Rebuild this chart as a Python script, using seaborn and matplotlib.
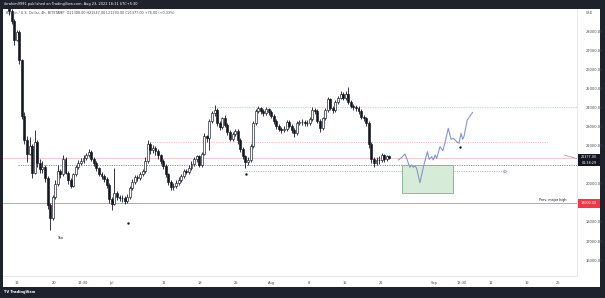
import numpy as np
import pandas as pd
import matplotlib
matplotlib.use("Agg")
import matplotlib.pyplot as plt
import seaborn as sns
from matplotlib.patches import Rectangle

# ---------------- data (12h candles, BTC/USD) ----------------
first_open = 29300
close = [29100, 28600, 27600, 28000, 26500, 23600, 22300, 21600, 22000, 20600,
         22200, 21100, 20800, 20900, 20300, 18900, 18200, 19300, 20000, 20700,
         20500, 21300, 20600, 20200, 19900, 20500, 20900, 21100, 21200, 21350,
         21500, 21700, 21300, 21100, 20850, 20550, 20400, 20250, 19950, 19200,
         18950, 19500, 19300, 19250, 19250, 19100, 19300, 19800, 20100, 20350,
         20300, 20500, 20700, 21200, 22100, 21800, 21900, 21750, 21500, 21200,
         20950, 20500, 20100, 19850, 19900, 20050, 20200, 20400, 20700, 20650,
         20850, 21050, 21300, 21450, 21000, 21600, 22500, 22400, 23300, 23750,
         23900, 23200, 23000, 23450, 23100, 22750, 22350, 22650, 22800, 22300,
         21850, 21450, 21150, 21250, 22000, 23200, 23850, 24000, 23850, 23750,
         23950, 23800, 23600, 23300, 23050, 22900, 22850, 22900, 23250, 23050,
         22850, 22700, 23200, 23250, 23250, 23200, 23200, 23400, 23900, 23850,
         23300, 22950, 23450, 23900, 24450, 24000, 23900, 24300, 24550, 24750,
         24500, 24750, 24300, 24100, 24050, 24000, 23850, 23550, 23450, 23200,
         22100, 21300, 21100, 21250, 21250, 21550, 21300, 21450, 21380]
high = [29400, 29200, 28700, 28100, 28100, 26600, 23800, 22500, 22450, 22100,
        22840, 22300, 21300, 21200, 21000, 20400, 19000, 19400, 20200, 21000,
        20800, 21530, 21400, 20700, 20300, 20600, 21000, 21250, 21350, 21500,
        21650, 21850, 21800, 21400, 21200, 20900, 20650, 20500, 20350, 20050,
        19300, 20840, 19650, 19400, 19400, 19350, 19450, 19900, 20250, 20450,
        20450, 20650, 20800, 21400, 22320, 22200, 22050, 22000, 21850, 21600,
        21300, 21050, 20600, 20200, 20050, 20200, 20350, 20550, 20800, 20800,
        21000, 21200, 21400, 21550, 21500, 21700, 22700, 22600, 23400, 23850,
        24160, 24000, 23300, 23550, 23630, 23200, 22850, 22750, 22900, 22900,
        22400, 21950, 21550, 21400, 22100, 23300, 23950, 24100, 24050, 23950,
        24070, 24000, 23900, 23700, 23400, 23150, 23000, 23050, 23350, 23350,
        23150, 22950, 23300, 23350, 23400, 23350, 23350, 23500, 24070, 24000,
        23950, 23400, 23550, 24000, 24600, 24550, 24100, 24400, 24650, 24900,
        24850, 24900, 25120, 24400, 24200, 24150, 24100, 23950, 23650, 23550,
        23300, 22200, 21400, 21400, 21450, 21650, 21600, 21550, 21550]
low = [28900, 28400, 27300, 27500, 26300, 23400, 22100, 21170, 21500, 20320,
       20500, 20900, 20600, 20600, 20100, 18700, 17580, 18100, 19200, 19900,
       20300, 20400, 20500, 20000, 19800, 19850, 20400, 20800, 21000, 21100,
       21250, 21400, 21200, 20950, 20700, 20400, 20250, 20100, 19800, 19000,
       18630, 18900, 19150, 19100, 19050, 18950, 19000, 19200, 19700, 20000,
       20150, 20200, 20400, 20600, 21100, 21600, 21650, 21550, 21300, 21050,
       20800, 20350, 19950, 19700, 19680, 19800, 19950, 20100, 20300, 20500,
       20550, 20750, 20950, 21150, 20900, 20900, 21500, 22200, 21800, 23200,
       23600, 23050, 22840, 22900, 23000, 22600, 22250, 22250, 22550, 22100,
       21700, 21300, 20840, 21000, 21150, 21900, 23100, 23750, 23700, 23600,
       23650, 23650, 23450, 23150, 22900, 22800, 22700, 22750, 22800, 22950,
       22700, 22490, 22600, 23100, 23100, 23050, 23050, 23100, 23300, 23700,
       23200, 22760, 22850, 23350, 23800, 23900, 23750, 23800, 24200, 24450,
       24400, 24400, 24200, 24000, 23900, 23850, 23700, 23400, 23300, 23050,
       21900, 21100, 20910, 21000, 21050, 21150, 21150, 21200, 21290]

# hand-drawn projection path (candle index, price)
fc_idx = [151.5, 152.4, 154.1, 155.4, 156.0, 156.7, 157.3, 158.0, 158.6, 159.9,
          161.2, 162.8, 163.5, 164.5, 165.1, 165.8, 166.4, 167.7, 168.8, 169.6,
          170.9, 172.0, 172.9, 174.2, 175.1, 175.9, 176.5, 177.0, 178.3, 180.4]
fc_price = [21263, 21353, 21579, 21089, 20879, 21000, 20879, 20947, 20826, 20068,
            20879, 21700, 21300, 21437, 21263, 21526, 21353, 21963, 21753, 22142,
            22932, 22353, 22405, 22226, 22142, 22668, 22353, 22489, 23368, 23774]

dot_idx = [46.3, 92.2, 175.4]
dot_price = [17947, 20526, 21947]

prev_major_high = 19000
last_price = 21377
level_dark = 21000
level_blue = 20680
level_pink_low = 22200
level_pink_high = 24050
zone_idx = [152.9, 172.8]
zone_price = [19530, 21000]
trend_idx = [216.0, 221.4]
trend_price = [21526, 21316]

price_ticks = [16000, 17000, 18000, 20000, 22000, 23000, 24000, 25000, 26000, 27000, 28000]
time_labels = ["13", "20", "13:30", "Jul", "11", "18", "25", "Aug", "8", "15", "22",
               "Sep", "13:30", "12", "19", "26"]
time_ticks = [3.1, 17.5, 28.8, 39.7, 60.3, 74.3, 88.3, 102.3, 116.7, 130.7, 144.7,
              165.4, 176.3, 187.5, 201.6, 213.6]

# ---------------- figure ----------------
sns.set_theme(style="white")
plt.rcParams["font.family"] = ["DejaVu Sans"]

W, H = 605, 298
fig = plt.figure(figsize=(W / 100, H / 100), dpi=100, facecolor="#1e222d")

def fx(p):
    return p / W

def fy(p):
    return 1 - p / H

# white panel
bg = fig.add_axes([fx(3), fy(287), fx(600) - fx(3), fy(9) - fy(287)])
bg.set_facecolor("white")
bg.set_xticks([]); bg.set_yticks([])
for s in bg.spines.values():
    s.set_visible(False)

ax = fig.add_axes([fx(3), fy(276), fx(577) - fx(3), fy(9) - fy(276)])
ax.set_facecolor("none")
ax.set_xlim(-2.33, 221.0)
ax.set_ylim(15158, 29210)

df = pd.DataFrame({"close": close, "high": high, "low": low})
df["open"] = [first_open] + close[:-1]
df["idx"] = np.arange(len(df))

# horizontal levels
ax.axhline(prev_major_high, color="#f47a84", lw=0.6, zorder=1)
ax.axhline(last_price, color="#f3c0c4", lw=0.6, zorder=1)
ax.hlines(level_dark, 3.5, 221, color="#6a6d78", lw=0.6, linestyles=(0, (1.2, 1.6)), zorder=1)
ax.hlines(level_blue, 91.5, 193, color="#8f9cc8", lw=0.6, linestyles=(0, (1.2, 1.6)), zorder=1)
ax.plot([193], [level_blue], marker=">", ms=2.2, mfc="none", mec="#8f9cc8", mew=0.5)
ax.hlines(level_pink_low, 55, 210, color="#f2a9ae", lw=0.6, linestyles=(0, (1.2, 1.6)), zorder=1)
ax.hlines(level_pink_high, 78, 221, color="#f2a9ae", lw=0.6, linestyles=(0, (1.2, 1.6)), zorder=1)
ax.plot(trend_idx, trend_price, color="#9aa0ad", lw=0.6)

# projection zone
ax.add_patch(Rectangle((zone_idx[0], zone_price[0]), zone_idx[1] - zone_idx[0],
                       zone_price[1] - zone_price[0], facecolor="#d7ebd9",
                       edgecolor="#7fb08a", lw=0.6, zorder=1.5))

# candles
up = df["close"] >= df["open"]
ax.vlines(df["idx"], df["low"], df["high"], color="#131722", lw=0.6, zorder=3)
body_lo = np.minimum(df["open"], df["close"])
body_h = np.maximum(np.abs(df["close"] - df["open"]), 25)
ax.bar(df["idx"][up], body_h[up], bottom=body_lo[up], width=0.75,
       color="white", edgecolor="#131722", linewidth=0.45, zorder=4)
ax.bar(df["idx"][~up], body_h[~up], bottom=body_lo[~up], width=0.75,
       color="#131722", edgecolor="#131722", linewidth=0.45, zorder=4)

# projection line and markers
sns.lineplot(x=fc_idx, y=fc_price, ax=ax, color="#8596cc", lw=0.8, sort=False, zorder=5)
sns.scatterplot(x=dot_idx, y=dot_price, ax=ax, color="#131722", s=3, linewidth=0, zorder=6)

ax.text(19.8, 17158, "Tao", fontsize=2.6, color="#131722", ha="center", va="center")
ax.text(217, prev_major_high + 60, "Prev. major high", fontsize=2.4, color="#131722",
        ha="right", va="bottom")

# axes styling
for side in ["left", "top"]:
    ax.spines[side].set_visible(False)
ax.spines["right"].set_color("#e0e3eb"); ax.spines["right"].set_linewidth(0.6)
ax.spines["bottom"].set_color("#e0e3eb"); ax.spines["bottom"].set_linewidth(0.6)
ax.yaxis.tick_right()
ax.set_yticks(price_ticks)
ax.set_yticklabels([f"{v:.2f}" for v in price_ticks])
ax.set_xticks(time_ticks)
ax.set_xticklabels(time_labels)
ax.tick_params(axis="y", length=0, pad=6, labelsize=2.6, labelcolor="#434651")
ax.tick_params(axis="x", length=0, pad=3.5, labelsize=2.6, labelcolor="#434651")
ax.set_xlabel(""); ax.set_ylabel("")
ax.grid(False)

# price tags
fig.patches.append(Rectangle((fx(578), fy(166)), fx(600) - fx(578), fy(154) - fy(166),
                             transform=fig.transFigure, facecolor="#131722", edgecolor="none"))
fig.text(fx(589), fy(157.3), f"{last_price:.2f}", fontsize=2.4, color="white", ha="center", va="center")
fig.text(fx(589), fy(162.5), "01:38:29", fontsize=2.4, color="white", ha="center", va="center")
fig.patches.append(Rectangle((fx(578), fy(208)), fx(600) - fx(578), fy(199) - fy(208),
                             transform=fig.transFigure, facecolor="#f23645", edgecolor="none"))
fig.text(fx(589), fy(203.5), f"{prev_major_high:.2f}", fontsize=2.4, color="white", ha="center", va="center")
fig.text(fx(589), fy(13), "USD", fontsize=2.4, color="#434651", ha="center", va="center")

# header / legend texts
fig.text(fx(4), fy(4.5), "ibrahim9991 published on TradingView.com, Aug 23, 2022 16:21 UTC+5:30",
         fontsize=2.5, color="white", ha="left", va="center")
fig.text(fx(6), fy(13), "Bitcoin / U.S. Dollar, 4h, BITSTAMP  O21308.00 H21547.00 L21290.00 C21377.00 +76.00 (+0.33%)",
         fontsize=2.4, color="#434651", ha="left", va="center", zorder=0)
fig.text(fx(4), fy(292.5), "TV TradingView", fontsize=2.6, color="white", ha="left", va="center",
         fontweight="bold")

fig.savefig("out.png", dpi=100, facecolor=fig.get_facecolor())
